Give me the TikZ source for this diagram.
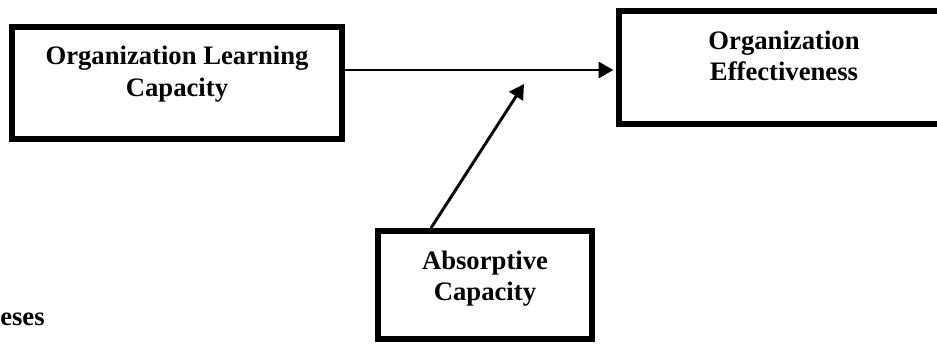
\documentclass[tikz,border=0pt]{standalone}
\usepackage{fontspec}
\setmainfont{Liberation Serif}
\usetikzlibrary{arrows.meta}

\begin{document}
\begin{tikzpicture}[x=0.75pt, y=-0.75pt,
    factor/.style={draw, line width=4.5pt, inner sep=0pt},
    caption/.style={anchor=north, align=center, inner sep=0pt, font=\fontsize{20}{23.5}\selectfont\bfseries},
    link/.style={-{Triangle[length=11pt, width=12pt]}, line width=2.2pt}]
    \useasboundingbox (0,0) rectangle (937,343);

    \node[factor, minimum width=247.5pt, minimum height=84pt] (olc) at (177,83) {};
    \node[factor, minimum width=247.5pt, minimum height=84.75pt] (oe) at (784,67.5) {};
    \node[factor, minimum width=160.5pt, minimum height=81pt] (ac) at (485,285) {};

    \node[caption, yshift=-16.5pt] (olct) at (olc.north) {Organization Learning\\Capacity};
    \node[caption, yshift=-17pt] (oet) at (oe.north) {Organization\\Effectiveness};
    \node[caption, yshift=-17pt] (act) at (ac.north) {Absorptive\\Capacity};
    \node[anchor=base west, inner sep=0pt, font=\fontsize{20}{24}\selectfont\bfseries] (hyp) at (0,325) {eses};

    \coordinate (h) at ([yshift=9.75pt]olc.east);
    \coordinate (mod) at (524,84);
    \draw[link, shorten >=2pt] (h) -- (h -| oe.west);
    \draw[link] ([xshift=42pt]ac.north west) -- (mod);
\end{tikzpicture}
\end{document}
